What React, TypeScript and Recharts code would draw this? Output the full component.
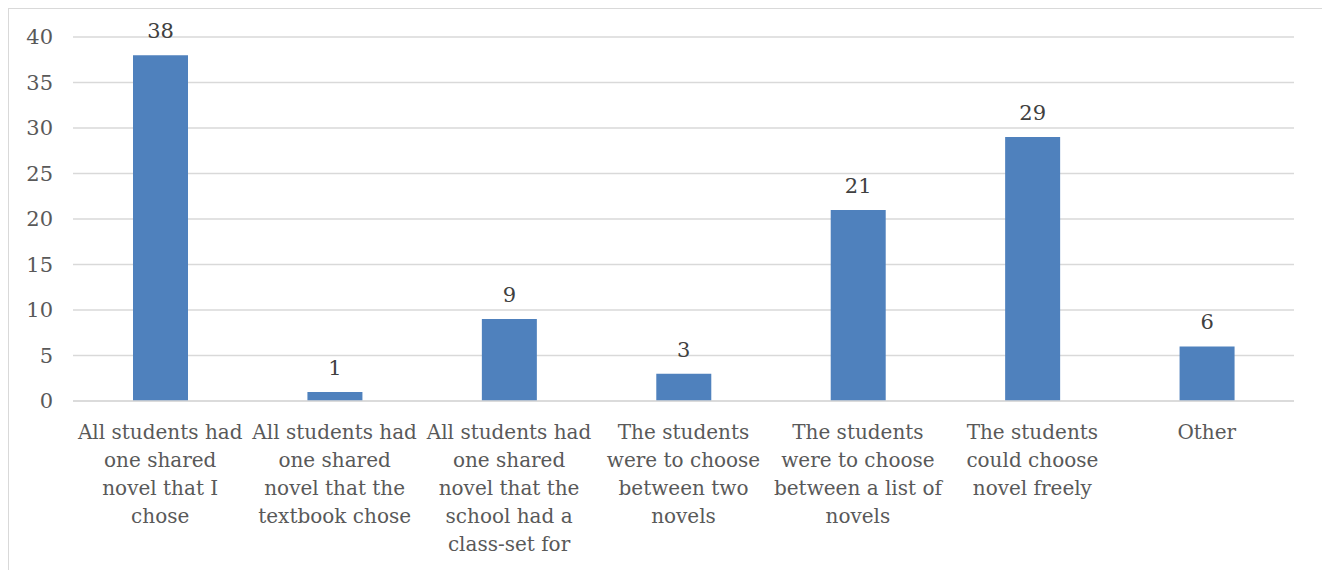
import React from "react";
import { BarChart, Bar, XAxis, YAxis, CartesianGrid, LabelList } from "recharts";

// Category labels, already broken into the lines they wrap onto
const categoryLines: string[][] = [
  ["All students had", "one shared", "novel that I", "chose"],
  ["All students had", "one shared", "novel that the", "textbook chose"],
  ["All students had", "one shared", "novel that the", "school had a", "class-set for"],
  ["The students", "were to choose", "between two", "novels"],
  ["The students", "were to choose", "between a list of", "novels"],
  ["The students", "could choose", "novel freely"],
  ["Other"],
];
const counts: number[] = [38, 1, 9, 3, 21, 29, 6];
const yTicks: number[] = [0, 5, 10, 15, 20, 25, 30, 35, 40];

const categories = categoryLines.map((l) => l.join(" "));
const data = categories.map((name, i) => ({ name, value: counts[i] }));

const FONT = "'DejaVu Serif', 'Liberation Serif', serif";
const TEXT = "#595959";

const CategoryTick = (props: any) => {
  const { x, y, payload } = props;
  const lines = categoryLines[payload.index] ?? [String(payload.value)];
  return (
    <text x={x} y={y} textAnchor="middle" fill={TEXT} fontFamily={FONT} fontSize={20}>
      {lines.map((line, i) => (
        <tspan key={i} x={x} y={y + 30 + i * 28}>
          {line}
        </tspan>
      ))}
    </text>
  );
};

export default function App() {
  return (
    <div
      style={{
        width: 1313,
        height: 561,
        marginLeft: -1,
        borderTop: "1px solid #d9d9d9",
        borderLeft: "2px solid #d9d9d9",
        borderRight: "2px solid #d9d9d9",
        overflow: "hidden",
        background: "#fff",
      }}
    >
      <BarChart
        width={1313}
        height={570}
        data={data}
        margin={{ top: 28, right: 28, bottom: 8, left: -1 }}
        barCategoryGap={0}
      >
        <CartesianGrid vertical={false} stroke="#d9d9d9" strokeWidth={1.3} />
        <XAxis
          dataKey="name"
          interval={0}
          height={170}
          axisLine={{ stroke: "#d9d9d9", strokeWidth: 1.3 }}
          tickLine={false}
          tick={<CategoryTick />}
        />
        <YAxis
          width={65}
          domain={[0, 40]}
          ticks={yTicks}
          axisLine={false}
          tickLine={false}
          tick={{ fill: TEXT, fontFamily: FONT, fontSize: 21 }}
          tickMargin={14}
        />
        <Bar dataKey="value" fill="#4f81bd" barSize={55} isAnimationActive={false}>
          <LabelList
            dataKey="value"
            position="top"
            offset={17}
            fill="#404040"
            fontFamily={FONT}
            fontSize={21}
          />
        </Bar>
      </BarChart>
    </div>
  );
}
